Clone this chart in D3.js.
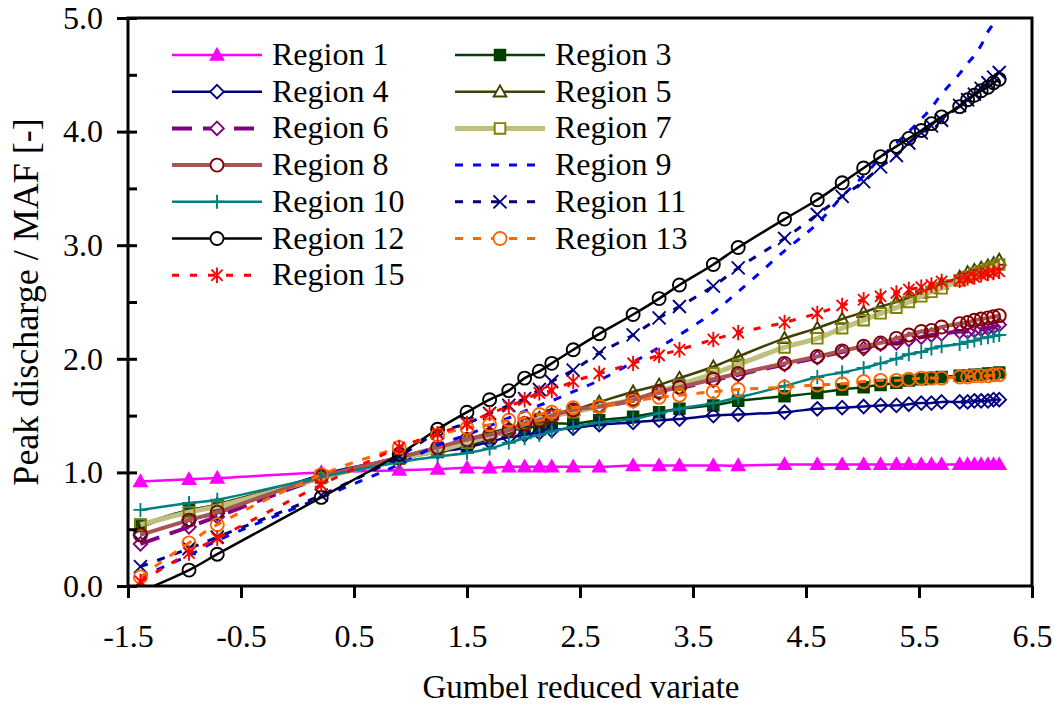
<!DOCTYPE html>
<html>
<head>
<meta charset="utf-8">
<script src="https://cdn.jsdelivr.net/npm/d3@7"></script>
<style>
  body { margin: 0; background: #fff; }
  svg text { font-family: "Liberation Serif", "Times New Roman", serif; fill: #000; }
</style>
</head>
<body>
<svg id="chart" width="1054" height="705"></svg>
<script>
// Gumbel reduced variate of each plotted return period
const xs = [-1.39, -0.96, -0.71, 0.21, 0.90, 1.24, 1.50, 1.70, 1.87, 2.01, 2.14, 2.25,
  2.44, 2.67, 2.97, 3.20, 3.38, 3.68, 3.90, 4.31, 4.60, 4.82, 5.01, 5.16,
  5.30, 5.41, 5.52, 5.61, 5.70, 5.86, 5.93, 5.99, 6.05, 6.11, 6.16, 6.21];

const region1 = [0.92, 0.94, 0.95, 1.00, 1.02, 1.03, 1.04, 1.04, 1.05, 1.05, 1.05, 1.05,
  1.05, 1.05, 1.06, 1.06, 1.06, 1.06, 1.06, 1.07, 1.07, 1.07, 1.07, 1.07,
  1.07, 1.07, 1.07, 1.07, 1.07, 1.07, 1.07, 1.07, 1.07, 1.07, 1.07, 1.07];
const region3 = [0.54, 0.67, 0.71, 0.97, 1.12, 1.18, 1.23, 1.30, 1.36, 1.39, 1.41, 1.43,
  1.43, 1.46, 1.49, 1.53, 1.56, 1.59, 1.63, 1.67, 1.70, 1.73, 1.75, 1.77,
  1.79, 1.81, 1.82, 1.83, 1.84, 1.85, 1.85, 1.86, 1.86, 1.87, 1.87, 1.88];
const region4 = [0.45, 0.58, 0.64, 0.98, 1.12, 1.18, 1.22, 1.27, 1.31, 1.33, 1.35, 1.37,
  1.39, 1.42, 1.44, 1.46, 1.47, 1.50, 1.51, 1.53, 1.56, 1.57, 1.58, 1.59,
  1.59, 1.60, 1.61, 1.61, 1.62, 1.62, 1.62, 1.63, 1.63, 1.63, 1.64, 1.64];
const region5 = [0.52, 0.66, 0.72, 0.96, 1.13, 1.22, 1.29, 1.35, 1.39, 1.43, 1.48, 1.51,
  1.55, 1.62, 1.71, 1.77, 1.83, 1.93, 2.02, 2.18, 2.27, 2.35, 2.41, 2.46,
  2.50, 2.54, 2.58, 2.62, 2.66, 2.72, 2.76, 2.78, 2.80, 2.82, 2.84, 2.87];
const region6 = [0.37, 0.52, 0.61, 0.95, 1.13, 1.21, 1.28, 1.33, 1.37, 1.42, 1.46, 1.49,
  1.54, 1.58, 1.63, 1.70, 1.74, 1.81, 1.86, 1.95, 2.01, 2.06, 2.09, 2.13,
  2.14, 2.17, 2.19, 2.21, 2.22, 2.24, 2.24, 2.25, 2.26, 2.27, 2.28, 2.30];
const region7 = [0.54, 0.65, 0.70, 0.95, 1.12, 1.19, 1.26, 1.32, 1.37, 1.43, 1.47, 1.50,
  1.53, 1.58, 1.64, 1.71, 1.77, 1.87, 1.95, 2.10, 2.18, 2.27, 2.34, 2.40,
  2.45, 2.50, 2.55, 2.59, 2.62, 2.69, 2.72, 2.75, 2.77, 2.79, 2.81, 2.83];
const region8 = [0.45, 0.58, 0.65, 0.96, 1.13, 1.22, 1.29, 1.33, 1.37, 1.43, 1.46, 1.50,
  1.55, 1.58, 1.64, 1.71, 1.75, 1.82, 1.87, 1.96, 2.02, 2.07, 2.11, 2.14,
  2.18, 2.21, 2.24, 2.25, 2.28, 2.31, 2.32, 2.34, 2.35, 2.36, 2.37, 2.38];
const region9 = [0.08, 0.27, 0.40, 0.78, 1.07, 1.24, 1.33, 1.41, 1.48, 1.54, 1.59, 1.63,
  1.71, 1.81, 1.97, 2.10, 2.21, 2.41, 2.59, 2.95, 3.19, 3.43, 3.61, 3.77,
  3.90, 4.00, 4.11, 4.21, 4.33, 4.51, 4.60, 4.67, 4.76, 4.88, 4.95, 5.02];
const region10 = [0.67, 0.73, 0.76, 0.96, 1.09, 1.14, 1.17, 1.21, 1.26, 1.30, 1.33, 1.36,
  1.40, 1.44, 1.47, 1.52, 1.56, 1.61, 1.66, 1.76, 1.84, 1.88, 1.92, 1.96,
  2.00, 2.04, 2.06, 2.09, 2.11, 2.13, 2.15, 2.16, 2.18, 2.19, 2.20, 2.21];
const region11 = [0.17, 0.33, 0.43, 0.80, 1.14, 1.35, 1.43, 1.52, 1.59, 1.65, 1.73, 1.80,
  1.90, 2.05, 2.21, 2.36, 2.46, 2.64, 2.80, 3.06, 3.27, 3.43, 3.56, 3.69,
  3.79, 3.90, 3.99, 4.05, 4.10, 4.23, 4.28, 4.33, 4.38, 4.43, 4.48, 4.52];
const region12 = [-0.05, 0.14, 0.28, 0.78, 1.16, 1.38, 1.53, 1.64, 1.72, 1.83, 1.89, 1.96,
  2.08, 2.22, 2.39, 2.53, 2.65, 2.83, 2.98, 3.23, 3.40, 3.55, 3.68, 3.78,
  3.87, 3.94, 4.01, 4.07, 4.13, 4.22, 4.28, 4.32, 4.36, 4.39, 4.43, 4.46];
const region13 = [0.08, 0.38, 0.54, 0.98, 1.22, 1.33, 1.39, 1.42, 1.46, 1.48, 1.51, 1.53,
  1.57, 1.58, 1.63, 1.66, 1.68, 1.71, 1.73, 1.75, 1.77, 1.78, 1.80, 1.81,
  1.81, 1.82, 1.83, 1.83, 1.83, 1.84, 1.84, 1.85, 1.85, 1.85, 1.86, 1.86];
const region15 = [0.04, 0.29, 0.42, 0.89, 1.22, 1.34, 1.43, 1.52, 1.58, 1.64, 1.70, 1.72,
  1.80, 1.87, 1.96, 2.03, 2.08, 2.17, 2.23, 2.32, 2.40, 2.47, 2.52, 2.55,
  2.58, 2.61, 2.63, 2.65, 2.68, 2.69, 2.71, 2.72, 2.74, 2.75, 2.76, 2.77];

const xTicks = [-1.5, -0.5, 0.5, 1.5, 2.5, 3.5, 4.5, 5.5, 6.5];
const yTicks = [0, 1, 2, 3, 4, 5];
const yMinorTicks = [0.5, 1.5, 2.5, 3.5, 4.5];

// series in legend order (row by row, two columns)
const series = [
  { name: "Region 1",  values: region1,  line: "#FF00FF", width: 2.5, marker: "triangle", mColor: "#FF00FF", fill: true },
  { name: "Region 3",  values: region3,  line: "#004000", width: 2.5, marker: "square",   mColor: "#004000", fill: true },
  { name: "Region 4",  values: region4,  line: "#000080", width: 2.5, marker: "diamond",  mColor: "#000080" },
  { name: "Region 5",  values: region5,  line: "#404000", width: 2.5, marker: "triangle", mColor: "#404000" },
  { name: "Region 6",  values: region6,  line: "#800080", width: 4,   marker: "diamond",  mColor: "#800080", dash: "20,11" },
  { name: "Region 7",  values: region7,  line: "#BFBF80", width: 5,   marker: "square",   mColor: "#808000" },
  { name: "Region 8",  values: region8,  line: "#A65454", width: 4,   marker: "circle",   mColor: "#800000" },
  { name: "Region 9",  values: region9,  line: "#0000FF", width: 3,   marker: null,       dash: "8,10" },
  { name: "Region 10", values: region10, line: "#008080", width: 2.5, marker: "plus",     mColor: "#008080" },
  { name: "Region 11", values: region11, line: "#000080", width: 3,   marker: "x",        mColor: "#000080", dash: "8,10" },
  { name: "Region 12", values: region12, line: "#000000", width: 2.5, marker: "circle",   mColor: "#000000" },
  { name: "Region 13", values: region13, line: "#FF6600", width: 3,   marker: "circle",   mColor: "#FF6600", dash: "8,10" },
  { name: "Region 15", values: region15, line: "#FF0000", width: 3,   marker: "star",     mColor: "#FF0000", dash: "7,11" }
];

const markerPath = {
  triangle: s => `M0,${-s}L${s},${s * 0.75}L${-s},${s * 0.75}Z`,
  square: s => `M${-s},${-s}H${s}V${s}H${-s}Z`,
  diamond: s => `M0,${-s}L${s},0L0,${s}L${-s},0Z`,
  circle: s => `M${s},0A${s},${s} 0 1,1 ${-s},0A${s},${s} 0 1,1 ${s},0Z`,
  plus: s => `M${-s},0H${s}M0,${-s}V${s}`,
  x: s => `M${-s},${-s}L${s},${s}M${-s},${s}L${s},${-s}`,
  star: s => `M${-s * 0.8},${-s * 0.8}L${s * 0.8},${s * 0.8}M${-s * 0.8},${s * 0.8}L${s * 0.8},${-s * 0.8}M0,${-s * 1.1}V${s * 1.1}`
};
const markerSize = { triangle: 6.3, square: 5.3, diamond: 6.8, circle: 6.5, plus: 7, x: 6.5, star: 7 };

const svg = d3.select("#chart");
const plotLeft = 128, plotRight = 1032, plotTop = 18, plotBottom = 586;
const fmt = d => d.toFixed(1);

const x = d3.scaleLinear().domain([-1.5, 6.5]).range([plotLeft, plotRight]);
const y = d3.scaleLinear().domain([0, 5]).range([plotBottom, plotTop]);

svg.append("defs").append("clipPath").attr("id", "plotClip")
  .append("rect")
  .attr("x", plotLeft).attr("y", plotTop)
  .attr("width", plotRight - plotLeft).attr("height", plotBottom - plotTop);

// series
const plot = svg.append("g").attr("clip-path", "url(#plotClip)");
const line = d3.line()
  .x((d, i) => x(xs[i]))
  .y(d => y(d))
  .curve(d3.curveCatmullRom);

series.forEach(s => {
  plot.append("path")
    .attr("d", line(s.values))
    .attr("fill", "none")
    .attr("stroke", s.line)
    .attr("stroke-width", s.width)
    .attr("stroke-dasharray", s.dash || null)
    .attr("stroke-linejoin", "round");

  if (!s.marker) return;
  plot.selectAll(null)
    .data(s.values)
    .enter()
    .append("path")
    .attr("transform", (d, i) => `translate(${x(xs[i])},${y(d)})`)
    .attr("d", markerPath[s.marker](markerSize[s.marker]))
    .attr("fill", s.fill ? s.mColor : "none")
    .attr("stroke", s.mColor)
    .attr("stroke-width", 1.9);
});

// axes
const gx = svg.append("g")
  .attr("transform", `translate(0,${plotBottom})`)
  .call(d3.axisBottom(x).tickValues(xTicks).tickFormat(fmt)
    .tickSize(12).tickSizeOuter(0).tickPadding(26));

const gy = svg.append("g")
  .attr("transform", `translate(${plotLeft},0)`)
  .call(d3.axisLeft(y).tickValues(yTicks).tickFormat(fmt)
    .tickSize(11).tickSizeOuter(0).tickPadding(14));
gy.selectAll(".tick line").attr("x1", 9);

const gyMinor = svg.append("g")
  .attr("transform", `translate(${plotLeft},0)`)
  .call(d3.axisLeft(y).tickValues(yMinorTicks).tickFormat("").tickSize(-9).tickSizeOuter(0));

[gx, gy, gyMinor].forEach(g => {
  g.select(".domain").remove();
  g.selectAll(".tick line").attr("stroke", "#000").attr("stroke-width", 3);
  g.selectAll(".tick text").attr("font-size", 32)
    .style("font-family", "'Liberation Serif', 'Times New Roman', serif");
});

svg.append("rect")
  .attr("x", plotLeft).attr("y", plotTop)
  .attr("width", plotRight - plotLeft).attr("height", plotBottom - plotTop)
  .attr("fill", "none")
  .attr("stroke", "#000")
  .attr("stroke-width", 3);

// axis titles
svg.append("text")
  .attr("x", (plotLeft + plotRight) / 2 + 1)
  .attr("y", 698)
  .attr("text-anchor", "middle")
  .attr("font-size", 33)
  .text("Gumbel reduced variate");

svg.append("text")
  .attr("transform", `translate(38,${(plotTop + plotBottom) / 2}) rotate(-90)`)
  .attr("text-anchor", "middle")
  .attr("font-size", 36)
  .text("Peak discharge / MAF [-]");

// legend
const legend = svg.append("g");
series.forEach((s, i) => {
  const lx = i % 2 === 0 ? 172 : 455;
  const ly = 55 + Math.floor(i / 2) * 36.7;
  const item = legend.append("g").attr("transform", `translate(${lx},${ly})`);

  item.append("line")
    .attr("x1", 0).attr("x2", 90)
    .attr("stroke", s.line)
    .attr("stroke-width", s.width)
    .attr("stroke-dasharray", s.dash || null);

  if (s.marker) {
    item.append("path")
      .attr("transform", "translate(45,0)")
      .attr("d", markerPath[s.marker](markerSize[s.marker]))
      .attr("fill", s.fill ? s.mColor : "#fff")
      .attr("stroke", s.mColor)
      .attr("stroke-width", 1.9);
  }

  item.append("text")
    .attr("x", 100)
    .attr("y", 10)
    .attr("font-size", 32)
    .text(s.name);
});
</script>
</body>
</html>
